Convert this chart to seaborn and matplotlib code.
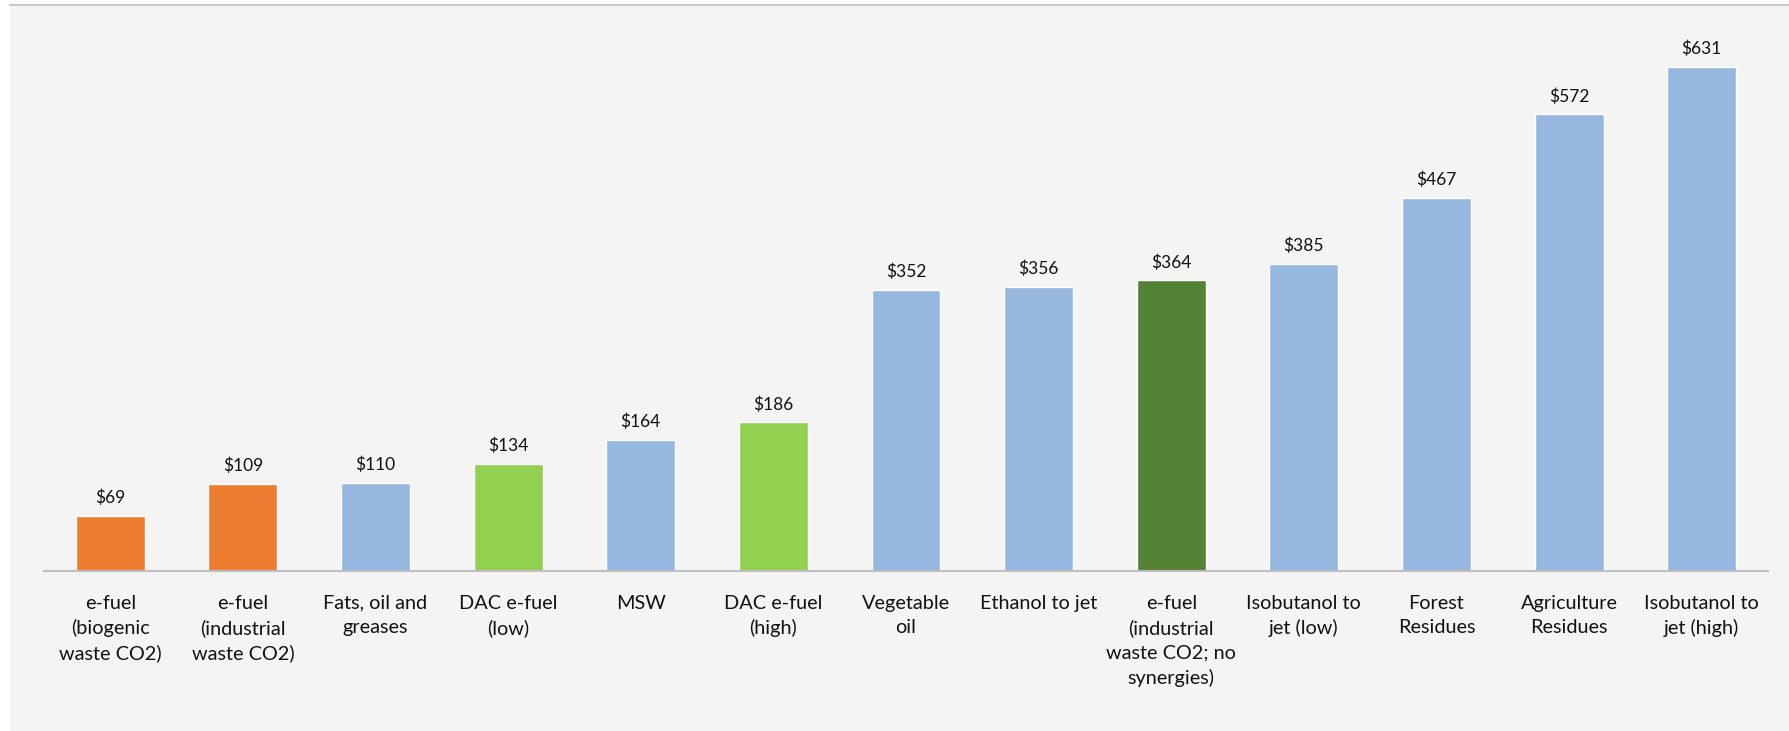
import matplotlib.pyplot as plt
import seaborn as sns
import pandas as pd
from matplotlib.patches import Rectangle
from matplotlib.lines import Line2D

sns.set_style("white")
plt.rcParams['font.family'] = ['Lato', 'DejaVu Sans']

# data
categories = ["e-fuel\n(biogenic\nwaste CO2)", "e-fuel\n(industrial\nwaste CO2)",
              "Fats, oil and\ngreases", "DAC e-fuel\n(low)", "MSW", "DAC e-fuel\n(high)",
              "Vegetable\noil", "Ethanol to jet",
              "e-fuel\n(industrial\nwaste CO2; no\nsynergies)",
              "Isobutanol to\njet (low)", "Forest\nResidues", "Agriculture\nResidues",
              "Isobutanol to\njet (high)"]
values = [69, 109, 110, 134, 164, 186, 352, 356, 364, 385, 467, 572, 631]
colors = ["#ED7D31", "#ED7D31", "#95B7E0", "#92D050", "#95B7E0", "#92D050",
          "#95B7E0", "#95B7E0", "#548235", "#95B7E0", "#95B7E0", "#95B7E0", "#95B7E0"]

df = pd.DataFrame({"cat": categories, "val": values})

fig = plt.figure(figsize=(17.89, 7.31), dpi=100, facecolor="white")
# grey panel behind the chart
fig.patches.append(Rectangle((10 / 1789, 0), 1 - 10 / 1789, 1 - 5 / 731,
                             transform=fig.transFigure, facecolor="#F3F4F3",
                             edgecolor="none", zorder=-5))
fig.lines.append(Line2D([10 / 1789, 1], [1 - 5 / 731, 1 - 5 / 731],
                        transform=fig.transFigure, color="#C8C8C8", lw=1.5, zorder=-4))

ax = fig.add_axes([44 / 1789, (731 - 571) / 731, (1768 - 44) / 1789, (571 - 20) / 731])
ax.set_facecolor("none")
sns.barplot(data=df, x="cat", y="val", hue="cat", palette=colors, legend=False,
            width=0.52, saturation=1, ax=ax)

for c in ax.containers:
    ax.bar_label(c, fmt="${:.0f}", padding=7, fontsize=12.5, color="#111111")

ax.set_ylim(0, 690)
ax.set_xlim(-0.5, len(values) - 0.5)
ax.set_xlabel("")
ax.set_ylabel("")
ax.set_yticks([])
ax.tick_params(axis="x", length=0, pad=17, labelsize=14.3, labelcolor="#111111")
for t in ax.get_xticklabels():
    t.set_linespacing(1.5)
for s in ["top", "left", "right"]:
    ax.spines[s].set_visible(False)
ax.spines["bottom"].set_color("#BFBFBF")
ax.spines["bottom"].set_linewidth(1.5)

fig.savefig("out.png", dpi=100)
